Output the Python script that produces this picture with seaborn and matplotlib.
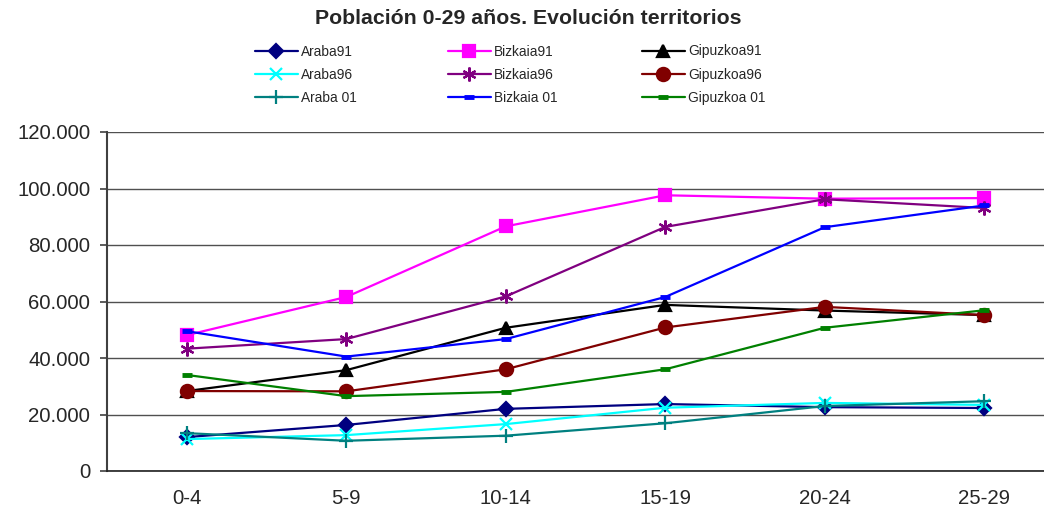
import pandas as pd
import seaborn as sns
import matplotlib.pyplot as plt
from matplotlib.ticker import FuncFormatter

grupos = ['0-4', '5-9', '10-14', '15-19', '20-24', '25-29']

araba91 = [12000, 16300, 22000, 23700, 22600, 22300]
bizkaia91 = [48100, 61600, 86600, 97600, 96400, 96600]
gipuzkoa91 = [28300, 35700, 50700, 58800, 56800, 55200]
araba96 = [11300, 12700, 16600, 22400, 24100, 23400]
bizkaia96 = [43300, 46700, 61800, 86400, 96200, 93100]
gipuzkoa96 = [28300, 28200, 36000, 50800, 58100, 55200]
araba01 = [13400, 10700, 12500, 16900, 23000, 24700]
bizkaia01 = [49500, 40500, 46700, 61600, 86300, 94000]
gipuzkoa01 = [34000, 26500, 28000, 36000, 50700, 56900]

series = [
    ('Araba91', araba91, '#000080', 'D', 7),
    ('Bizkaia91', bizkaia91, '#FF00FF', 's', 8.5),
    ('Gipuzkoa91', gipuzkoa91, '#000000', '^', 8.5),
    ('Araba96', araba96, '#00FFFF', 'x', 9),
    ('Bizkaia96', bizkaia96, '#800080', (6, 2, 0), 10),
    ('Gipuzkoa96', gipuzkoa96, '#800000', 'o', 9.5),
    ('Araba 01', araba01, '#008080', '+', 10),
    ('Bizkaia 01', bizkaia01, '#0000FF', '_', 7),
    ('Gipuzkoa 01', gipuzkoa01, '#008000', '_', 7),
]

sns.set_style('white')
plt.rcParams['font.family'] = ['Liberation Sans', 'DejaVu Sans']

fig = plt.figure(figsize=(10.44, 5.13), dpi=100)
ax = fig.add_axes([107 / 1044, 42 / 513, (1064 - 107) / 1044, 339 / 513])

handles = {}
for name, vals, col, mk, ms in series:
    df = pd.DataFrame({'grupo': grupos, 'valor': vals})
    sns.lineplot(data=df, x='grupo', y='valor', sort=False, ax=ax, color=col,
                 marker=mk, markersize=ms, linewidth=1.6,
                 markeredgecolor=col, markerfacecolor=col,
                 markeredgewidth=3.5 if mk == '_' else 1.6,
                 label=name, legend=False)
    handles[name] = ax.lines[-1]

ax.set_xlim(-0.5, 5.5)
ax.set_ylim(0, 120000)
ax.set_yticks(range(0, 120001, 20000))
ax.yaxis.set_major_formatter(FuncFormatter(lambda v, p: f'{int(v):,}'.replace(',', '.')))
ax.grid(axis='y', color='#505050', linewidth=1)
ax.set_axisbelow(True)
ax.set_xlabel('')
ax.set_ylabel('')
for s in ['top', 'right']:
    ax.spines[s].set_visible(False)
ax.spines['left'].set_color('#404040')
ax.spines['left'].set_linewidth(1.5)
ax.spines['bottom'].set_color('#202020')
ax.spines['bottom'].set_linewidth(1.2)
ax.tick_params(axis='y', length=5, width=1.2, color='#404040', pad=7, labelsize=14.7, left=True)
ax.tick_params(axis='x', length=0, pad=13, labelsize=14.7)

fig.text(528 / 1044, 1 - 19 / 513, 'Población 0-29 años. Evolución territorios',
         ha='center', va='center', fontsize=15.3, fontweight='bold')

columnas = [
    (255, ['Araba91', 'Araba96', 'Araba 01']),
    (448, ['Bizkaia91', 'Bizkaia96', 'Bizkaia 01']),
    (642, ['Gipuzkoa91', 'Gipuzkoa96', 'Gipuzkoa 01']),
]
for x0, nombres in columnas:
    fig.legend([handles[n] for n in nombres], nombres, loc='upper left',
               bbox_to_anchor=(x0 / 1044, 1 - 44.5 / 513), frameon=False, fontsize=9.9,
               handlelength=3.1, handletextpad=0.25,
               labelspacing=0.68, borderpad=0, borderaxespad=0)

plt.savefig('out.png', dpi=100)
